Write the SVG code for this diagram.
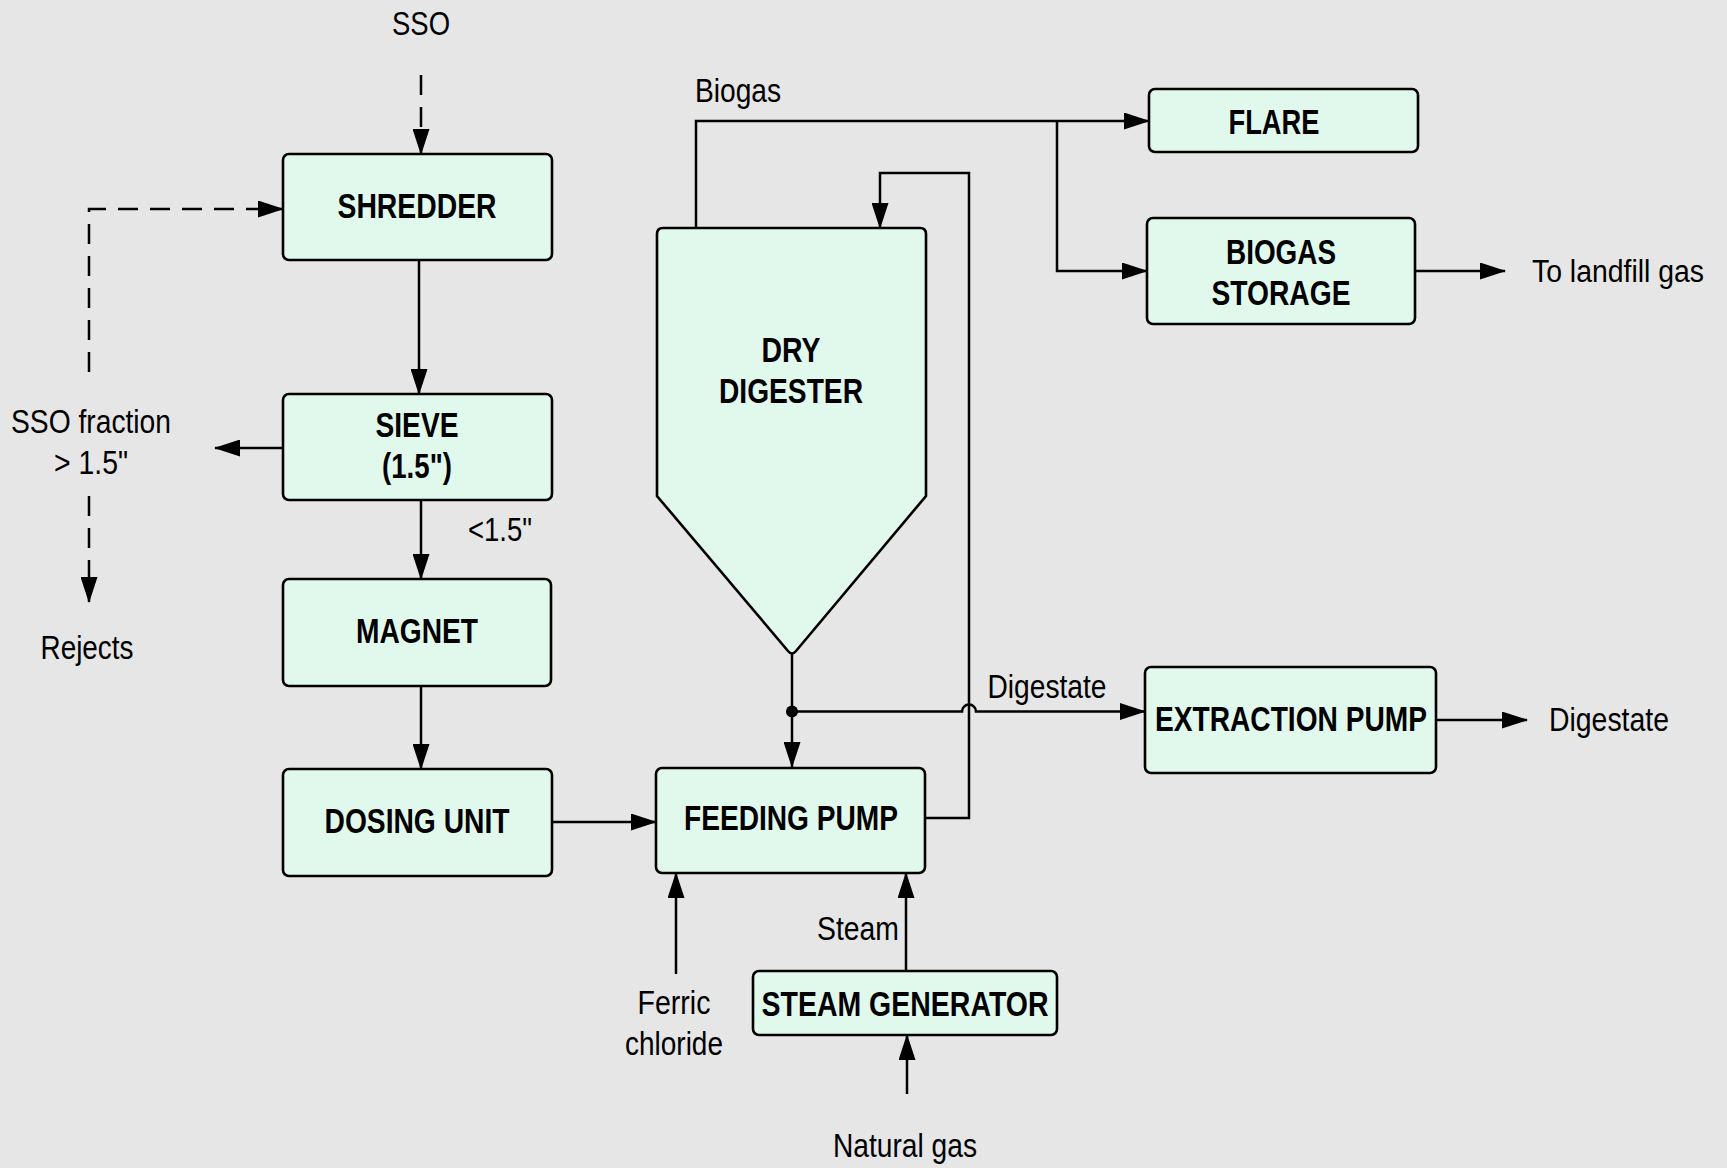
<svg xmlns="http://www.w3.org/2000/svg" width="1727" height="1168" viewBox="0 0 1727 1168">
<style>
.box{fill:#e1f9ed;stroke:#000;stroke-width:2.6}
.ln{fill:none;stroke:#000;stroke-width:2.5}
.dash{stroke-dasharray:20 12}
.t{font-family:"Liberation Sans",Arial,sans-serif;font-size:33px;fill:#000}
.b{font-weight:bold;font-size:35px;text-anchor:middle}
.c{text-anchor:middle}
</style>
<defs>
<marker id="ah" viewBox="0 0 26 17" refX="25" refY="8.5" markerWidth="26" markerHeight="17" orient="auto" markerUnits="userSpaceOnUse"><path d="M0,0 L26,8.5 L0,17 z" fill="#000"/></marker>
</defs>
<rect width="1727" height="1168" fill="#e6e6e6"/>
<g id="connectors">
<path class="ln dash" d="M421,75 V154" marker-end="url(#ah)"/>
<path class="ln dash" d="M89,372 V209 H283" marker-end="url(#ah)"/>
<path class="ln" d="M419,260 V394" marker-end="url(#ah)"/>
<path class="ln" d="M283,448 H215" marker-end="url(#ah)"/>
<path class="ln dash" d="M89,496 V602" marker-end="url(#ah)"/>
<path class="ln" d="M421,500 V579" marker-end="url(#ah)"/>
<path class="ln" d="M421,686 V769" marker-end="url(#ah)"/>
<path class="ln" d="M552,822 H656" marker-end="url(#ah)"/>
<path class="ln" d="M792,654 V767" marker-end="url(#ah)"/>
<circle cx="792" cy="711.5" r="6" fill="#000"/>
<path class="ln" d="M792,711.5 H962 A7,7 0 0 1 976,711.5 H1145" marker-end="url(#ah)"/>
<path class="ln" d="M925,818 H969 V173 H880 V228" marker-end="url(#ah)"/>
<path class="ln" d="M696,228 V121 H1149" marker-end="url(#ah)"/>
<path class="ln" d="M1057,121 V271 H1147" marker-end="url(#ah)"/>
<path class="ln" d="M1415,271 H1505" marker-end="url(#ah)"/>
<path class="ln" d="M1436,720 H1527" marker-end="url(#ah)"/>
<path class="ln" d="M676,974 V873" marker-end="url(#ah)"/>
<path class="ln" d="M906,971 V873" marker-end="url(#ah)"/>
<path class="ln" d="M907,1094 V1035" marker-end="url(#ah)"/>
</g>
<g id="shredder"><rect class="box" x="283" y="154" width="269" height="106" rx="6"/><text class="t b" x="417" y="218" textLength="159" lengthAdjust="spacingAndGlyphs">SHREDDER</text></g>
<g id="sieve"><rect class="box" x="283" y="394" width="269" height="106" rx="6"/><text class="t b" x="417" y="437" textLength="83" lengthAdjust="spacingAndGlyphs">SIEVE</text><text class="t b" x="417" y="478" textLength="70" lengthAdjust="spacingAndGlyphs">(1.5")</text></g>
<g id="magnet"><rect class="box" x="283" y="579" width="268" height="107" rx="6"/><text class="t b" x="417" y="643" textLength="122" lengthAdjust="spacingAndGlyphs">MAGNET</text></g>
<g id="dosing"><rect class="box" x="283" y="769" width="269" height="107" rx="6"/><text class="t b" x="417" y="833" textLength="185" lengthAdjust="spacingAndGlyphs">DOSING UNIT</text></g>
<g id="feeding"><rect class="box" x="656" y="768" width="269" height="105" rx="6"/><text class="t b" x="791" y="830" textLength="214" lengthAdjust="spacingAndGlyphs">FEEDING PUMP</text></g>
<g id="digester"><path class="box" d="M657,234 Q657,228 663,228 H920 Q926,228 926,234 V496 L796,651 Q792,656 788,651 L657,496 Z"/><text class="t b" x="791" y="362" textLength="59" lengthAdjust="spacingAndGlyphs">DRY</text><text class="t b" x="791" y="403" textLength="144" lengthAdjust="spacingAndGlyphs">DIGESTER</text></g>
<g id="flare"><rect class="box" x="1149" y="89" width="269" height="63" rx="6"/><text class="t b" x="1274" y="134" textLength="91" lengthAdjust="spacingAndGlyphs">FLARE</text></g>
<g id="storage"><rect class="box" x="1147" y="218" width="268" height="106" rx="6"/><text class="t b" x="1281" y="264" textLength="110" lengthAdjust="spacingAndGlyphs">BIOGAS</text><text class="t b" x="1281" y="305" textLength="139" lengthAdjust="spacingAndGlyphs">STORAGE</text></g>
<g id="extraction"><rect class="box" x="1145" y="667" width="291" height="106" rx="6"/><text class="t b" x="1291" y="731" textLength="272" lengthAdjust="spacingAndGlyphs">EXTRACTION PUMP</text></g>
<g id="steamgen"><rect class="box" x="753" y="971" width="304" height="64" rx="6"/><text class="t b" x="905" y="1016" textLength="287" lengthAdjust="spacingAndGlyphs">STEAM GENERATOR</text></g>
<g id="labels">
<text class="t c" x="421" y="35" textLength="58" lengthAdjust="spacingAndGlyphs">SSO</text>
<text class="t c" x="91" y="433" textLength="160" lengthAdjust="spacingAndGlyphs">SSO fraction</text>
<text class="t c" x="91" y="474" textLength="74" lengthAdjust="spacingAndGlyphs">&gt; 1.5"</text>
<text class="t c" x="87" y="659" textLength="93" lengthAdjust="spacingAndGlyphs">Rejects</text>
<text class="t c" x="500" y="541" textLength="64" lengthAdjust="spacingAndGlyphs">&lt;1.5"</text>
<text class="t c" x="738" y="102" textLength="86" lengthAdjust="spacingAndGlyphs">Biogas</text>
<text class="t c" x="1047" y="698" textLength="119" lengthAdjust="spacingAndGlyphs">Digestate</text>
<text class="t" x="1532" y="282" style="font-size:31px" textLength="172" lengthAdjust="spacingAndGlyphs">To landfill gas</text>
<text class="t" x="1549" y="731" textLength="120" lengthAdjust="spacingAndGlyphs">Digestate</text>
<text class="t c" x="674" y="1014" textLength="73" lengthAdjust="spacingAndGlyphs">Ferric</text>
<text class="t c" x="674" y="1055" textLength="98" lengthAdjust="spacingAndGlyphs">chloride</text>
<text class="t c" x="858" y="940" textLength="82" lengthAdjust="spacingAndGlyphs">Steam</text>
<text class="t c" x="905" y="1157" textLength="144" lengthAdjust="spacingAndGlyphs">Natural gas</text>
</g>
</svg>
